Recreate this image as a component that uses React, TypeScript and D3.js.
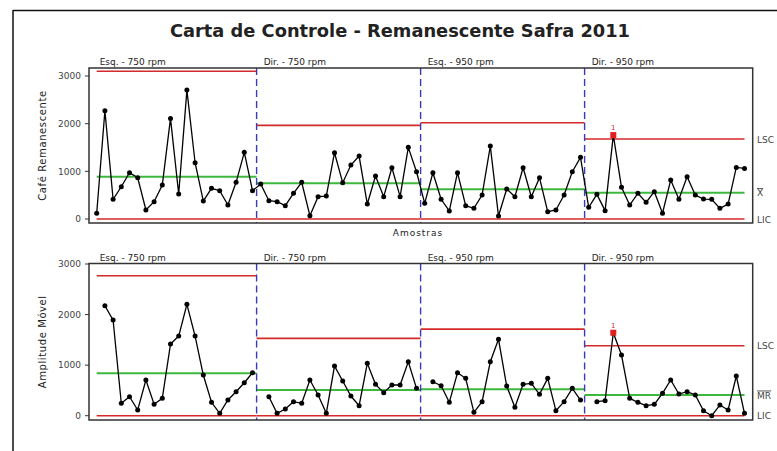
import React from "react";
import * as d3 from "d3";

const title = "Carta de Controle - Remanescente Safra 2011";
const phaseLabels = ["Esq. - 750 rpm", "Dir. - 750 rpm", "Esq. - 950 rpm", "Dir. - 950 rpm"];
const phaseStart = [1, 21, 41, 61];
const phaseEnd = [20, 40, 60, 80];

const yTicks = [0, 1000, 2000, 3000];

// Individual values (Café Remanescente), samples 1..80
const individuals = [
  120, 2270, 413, 677, 971, 866, 189, 363, 713, 2111,
  524, 2704, 1180, 377, 643, 594, 293, 769, 1398, 594,
  734, 384, 363, 279, 538, 769, 70, 468, 482, 1390,
  762, 1132, 1321, 314, 901, 468, 1076, 468, 1503, 992,
  329, 971, 413, 168, 971, 279, 224, 503, 1530, 63,
  629, 468, 1076, 468, 866, 154, 189, 503, 992, 1293,
  245, 517, 175, 1761, 664, 293, 538, 349, 573, 120,
  818, 413, 887, 503, 419, 413, 224, 314, 1083, 1062,
];
const indCL = [887, 748, 622, 552];
const indUCL = [3100, 1964, 2019, 1677];
const indLCL = [0, 0, 0, 0];

// Moving ranges (Amplitude Móvel), samples 1..80 (null at phase starts)
const movingRange = [
  null, 2174, 1891, 245, 376, 113, 706, 225, 344, 1417,
  1575, 2202, 1575, 804, 265, 47, 310, 474, 652, 850,
  null, 376, 47, 132, 277, 245, 706, 409, 47, 982,
  686, 389, 198, 1036, 620, 455, 607, 607, 1067, 541,
  null, 672, 593, 265, 850, 739, 67, 277, 1067, 1510,
  587, 166, 620, 640, 423, 739, 99, 277, 541, 310,
  null, 277, 297, 1641, 1200, 344, 265, 198, 225, 442,
  706, 429, 474, 409, 99, 0, 211, 113, 785, 47,
];
const mrCL = [838, 508, 522, 409];
const mrUCL = [2767, 1530, 1713, 1383];
const mrLCL = [0, 0, 0, 0];

const outOfControl = [64];

const FONT = "'DejaVu Sans', Verdana, sans-serif";

const x = d3.scaleLinear().domain([0, 81]).range([88.5, 752.7]);

function segX(k: number): [number, number] {
  const x0 = k === 0 ? x(phaseStart[0]) : x(phaseStart[k] - 0.5);
  const x1 = k === phaseStart.length - 1 ? x(phaseEnd[k]) : x(phaseEnd[k] + 0.5);
  return [x0, x1];
}

function Limits({ vals, y, color, width }: { vals: number[]; y: d3.ScaleLinear<number, number>; color: string; width: number }) {
  return (
    <g>
      {vals.map((v, k) => {
        const [x0, x1] = segX(k);
        return <line key={k} x1={x0} x2={x1} y1={y(v)} y2={y(v)} stroke={color} strokeWidth={width} />;
      })}
    </g>
  );
}

type PanelProps = {
  data: (number | null)[];
  cl: number[];
  ucl: number[];
  lcl: number[];
  boxTop: number;
  boxBottom: number;
  y: d3.ScaleLinear<number, number>;
  yTitle: string;
  centerLabel: string;
};

function Panel({ data, cl, ucl, lcl, boxTop, boxBottom, y, yTitle, centerLabel }: PanelProps) {
  const left = x.range()[0] + 0.5;
  const right = x.range()[1];
  const line = d3
    .line<number | null>()
    .defined((d) => d !== null)
    .x((_, i) => x(i + 1))
    .y((d) => y(d as number));
  const lastK = phaseStart.length - 1;
  return (
    <g>
      {phaseLabels.map((lab, k) => (
        <text key={lab} x={x(phaseStart[k]) + 3} y={boxTop - 3} fontSize={9} fontFamily={FONT} fill="#222">
          {lab}
        </text>
      ))}
      <Limits vals={ucl} y={y} color="#d42a2a" width={1.6} />
      <Limits vals={lcl} y={y} color="#d42a2a" width={1.6} />
      <Limits vals={cl} y={y} color="#3cb83c" width={2} />
      {phaseStart.slice(1).map((s) => (
        <line key={s} x1={x(s - 0.5)} x2={x(s - 0.5)} y1={boxTop} y2={boxBottom}
          stroke="#3a3ab8" strokeWidth={1.4} strokeDasharray="7,4" />
      ))}
      <path d={line(data) || ""} fill="none" stroke="#000" strokeWidth={1.3} />
      {data.map((d, i) =>
        d === null || outOfControl.includes(i + 1) ? null : (
          <circle key={i} cx={x(i + 1)} cy={y(d)} r={2.5} fill="#000" />
        )
      )}
      {data.map((d, i) =>
        d !== null && outOfControl.includes(i + 1) ? (
          <g key={"o" + i}>
            <rect x={x(i + 1) - 3} y={y(d) - 3} width={6} height={6} fill="#e02020" />
            <text x={x(i + 1)} y={y(d) - 5} fontSize={7} fontFamily={FONT} fill="#c03030" textAnchor="middle">1</text>
          </g>
        ) : null
      )}
      <rect x={left} y={boxTop} width={right - left} height={boxBottom - boxTop} fill="none" stroke="#333" strokeWidth={1.5} />
      {yTicks.map((t) => (
        <g key={t}>
          <line x1={left - 4} x2={left} y1={y(t)} y2={y(t)} stroke="#333" strokeWidth={1} />
          <text x={left - 8} y={y(t) + 3.2} fontSize={9} fontFamily={FONT} fill="#444" textAnchor="end">{t}</text>
        </g>
      ))}
      <text transform={`translate(46,${(boxTop + boxBottom) / 2}) rotate(-90)`} fontSize={10} fontFamily={FONT}
        fill="#222" textAnchor="middle" letterSpacing={0.6}>{yTitle}</text>
      <text x={757} y={y(ucl[lastK]) + 3.5} fontSize={9} fontFamily={FONT} fill="#444">LSC</text>
      <text x={757} y={y(cl[lastK]) + 3.5} fontSize={9} fontFamily={FONT} fill="#444" textDecoration="overline">{centerLabel}</text>
      <text x={757} y={y(lcl[lastK]) + 3.5} fontSize={9} fontFamily={FONT} fill="#444">LIC</text>
    </g>
  );
}

export default function App() {
  const yTop = d3.scaleLinear().domain([0, 3000]).range([219, 76]);
  const yBot = d3.scaleLinear().domain([0, 3000]).range([415.7, 264]);
  return (
    <svg width={777} height={451} style={{ position: "absolute", left: 0, top: 0, background: "#fff" }}>
      <rect x={0} y={0} width={777} height={451} fill="#fff" />
      <line x1={13} x2={777} y1={10.5} y2={10.5} stroke="#111" strokeWidth={1.5} />
      <line x1={13} x2={13} y1={10} y2={451} stroke="#111" strokeWidth={1.5} />
      <text x={400} y={36.5} fontSize={17} fontWeight="bold" fontFamily={FONT} fill="#222" textAnchor="middle"
        textLength={460} lengthAdjust="spacingAndGlyphs">{title}</text>
      <Panel data={individuals} cl={indCL} ucl={indUCL} lcl={indLCL} boxTop={68} boxBottom={223} y={yTop}
        yTitle="Café Remanescente" centerLabel="X" />
      <text x={418} y={236} fontSize={9} fontFamily={FONT} fill="#222" textAnchor="middle" letterSpacing={1}>Amostras</text>
      <Panel data={movingRange} cl={mrCL} ucl={mrUCL} lcl={mrLCL} boxTop={263.5} boxBottom={420} y={yBot}
        yTitle="Amplitude Móvel" centerLabel="MR" />
    </svg>
  );
}
